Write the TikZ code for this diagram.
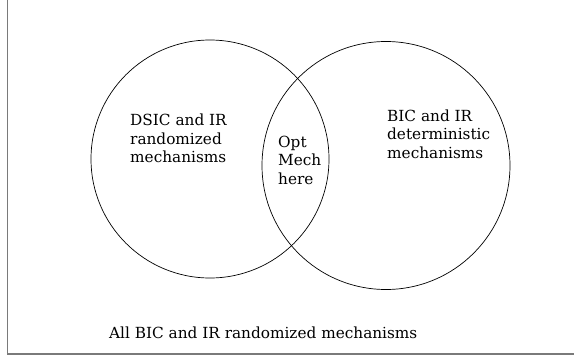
\documentclass[tikz,border=0pt]{standalone}
\usepackage{fontspec}
\setmainfont{DejaVu Serif}
\usepackage{tikz}
\usetikzlibrary{positioning}
\definecolor{framegray}{HTML}{7A7A7A}

\begin{document}
\begin{tikzpicture}[
  x=1pt, y=1pt,
  venn/.style={circle, draw=black, line width=0.7pt, inner sep=0pt},
  lbl/.style={inner sep=0pt, align=left,
              font=\fontsize{15.3}{18.5}\selectfont},
  frameline/.style={draw=framegray, line width=1.3pt}
]
\useasboundingbox (0,0) rectangle (574,360);

% === Outer set: open frame (left and bottom sides only) ===
\coordinate (ftop) at (7.5,360);
\coordinate (fcorner) at (7.5,6);
\coordinate (fright) at (574,6);
\draw[frameline] (ftop) -- (fcorner) -- (fright);

% === The two sets ===
% left circle centre (210,201), r = 119; right circle centre (386,194.5), r = 124
\node[venn, minimum size=238pt] (dsic) at (210,201) {};
\node[venn, minimum size=248pt] (bic)  at (386,194.5) {};

% === Labels ===
\node[lbl, anchor=north west] (dsiclbl) at (130,246)
  {DSIC and IR\\ randomized\\ mechanisms};
\node[lbl, anchor=north west] (optlbl) at (278,224.5)
  {Opt\\ Mech\\ here};
\node[lbl, anchor=north west] (biclbl) at (387,250.5)
  {BIC and IR\\ deterministic\\ mechanisms};

\node[lbl, anchor=base west] (alllbl) at (109,22)
  {All BIC and IR randomized mechanisms};

\end{tikzpicture}
\end{document}
